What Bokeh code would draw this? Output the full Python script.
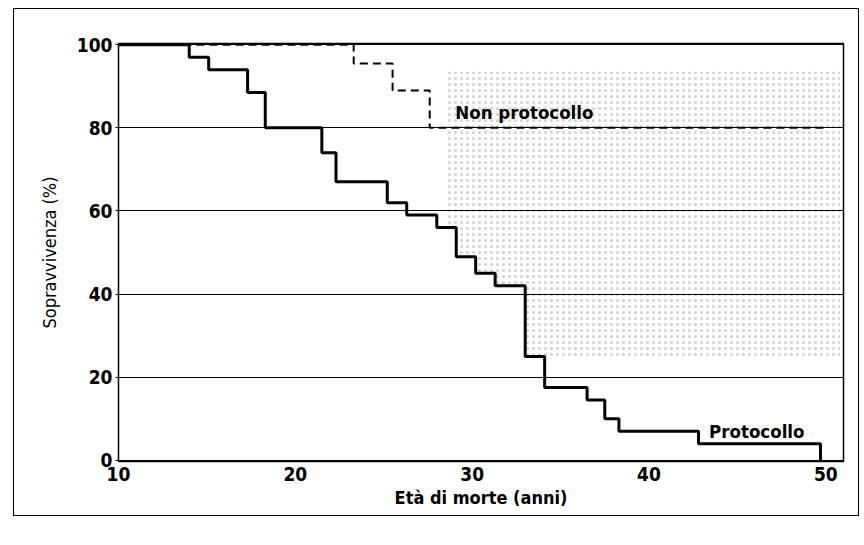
from bokeh.plotting import figure
from bokeh.models import Range1d, FixedTicker, Label
from bokeh.embed import file_html
from bokeh.resources import INLINE

# Kaplan-Meier steps: times (years) of each drop and survival (%) after it
prot_t = [10, 14.0, 15.1, 17.3, 18.3, 21.5, 22.3, 25.2, 26.3, 28.0, 29.1, 30.2, 31.3, 33.0, 34.1, 36.5, 37.5, 38.3, 42.8, 49.7]
prot_s = [100, 97, 94, 88.5, 80, 74, 67, 62, 59, 56, 49, 45, 42, 25, 17.5, 14.5, 10, 7, 4, 0]

non_t = [10, 23.3, 25.5, 27.6, 50.0]
non_s = [100, 95.5, 89, 80, 80]

# stippled band (between the curves)
shade_x = [28.5, 29.1, 30.2, 31.3, 33.0, 50.8]
shade_lo = [56, 49, 45, 42, 25, 25]
shade_hi = [93.5, 93.5, 93.5, 93.5, 93.5, 93.5]

x_ticks = [10, 20, 30, 40, 50]
y_ticks = [0, 20, 40, 60, 80, 100]

FONT = "'Liberation Sans Narrow', 'DejaVu Sans Condensed', 'Liberation Sans', sans-serif"

p = figure(width=846, height=508, output_backend="svg", toolbar_location=None,
           x_range=Range1d(10, 51), y_range=Range1d(-0.3, 100.3),
           min_border_left=104, min_border_right=17, min_border_top=34, min_border_bottom=56)
p.styles = {"border": "1.5px solid black", "margin-left": "13px", "margin-top": "8px"}

p.outline_line_color = "black"
p.outline_line_width = 1.5
p.xgrid.visible = False
p.ygrid.grid_line_color = "black"
p.ygrid.grid_line_alpha = 1
p.ygrid.grid_line_width = 1
p.ygrid.ticker = FixedTicker(ticks=y_ticks)

p.xaxis.ticker = FixedTicker(ticks=x_ticks)
p.yaxis.ticker = FixedTicker(ticks=y_ticks)
for ax in (p.xaxis, p.yaxis):
    ax.axis_line_color = None
    ax.minor_tick_line_color = None
    ax.major_tick_in = 0
    ax.major_label_text_font = FONT
    ax.major_label_text_font_style = "bold"
    ax.major_label_text_font_size = "19px"
    ax.major_label_text_color = "black"
    ax.axis_label_text_font = FONT
    ax.axis_label_text_color = "black"
p.xaxis.major_tick_out = 0
p.xaxis.major_label_standoff = 5
p.yaxis.major_tick_out = 3
p.yaxis.major_tick_line_color = "black"
p.yaxis.major_label_standoff = 3
p.xaxis.axis_label = "Età di morte (anni)"
p.xaxis.axis_label_text_font_style = "bold"
p.xaxis.axis_label_text_font_size = "18px"
p.xaxis.axis_label_standoff = 3
p.yaxis.axis_label = "Sopravvivenza (%)"
p.yaxis.axis_label_text_font_style = "normal"
p.yaxis.axis_label_text_font_size = "18px"
p.yaxis.axis_label_standoff = 14

p.varea_step(x=shade_x, y1=shade_lo, y2=shade_hi, step_mode="after",
             fill_alpha=0, hatch_pattern="dot", hatch_scale=6, hatch_weight=0.5,
             hatch_color="#000000", hatch_alpha=0.18)

p.step(non_t, non_s, mode="after", line_color="black", line_width=2, line_dash="8 5")
p.step(prot_t, prot_s, mode="after", line_color="black", line_width=3)

p.add_layout(Label(x=29.05, y=83.8, text="Non protocollo", text_font=FONT, text_font_style="bold",
                   text_font_size="18.5px", text_baseline="middle", text_color="black"))
p.add_layout(Label(x=43.4, y=7.0, text="Protocollo", text_font=FONT, text_font_style="bold",
                   text_font_size="18.5px", text_baseline="middle", text_color="black"))

open("out.html", "w").write(file_html(p, INLINE))
